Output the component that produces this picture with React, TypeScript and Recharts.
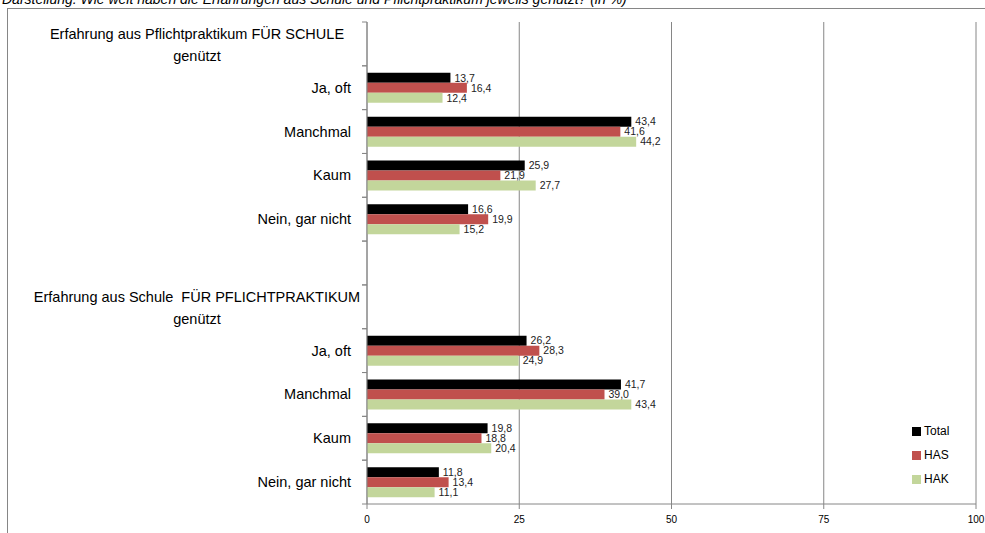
import React from 'react';
import {
  BarChart, Bar, XAxis, YAxis, CartesianGrid, LabelList,
} from 'recharts';

const categories = [
  'Erfahrung aus Pflichtpraktikum FÜR SCHULE genützt',
  'Ja, oft',
  'Manchmal',
  'Kaum',
  'Nein, gar nicht',
  '',
  'Erfahrung aus Schule  FÜR PFLICHTPRAKTIKUM genützt',
  'Ja, oft',
  'Manchmal',
  'Kaum',
  'Nein, gar nicht',
];

const total = [null, 13.7, 43.4, 25.9, 16.6, null, null, 26.2, 41.7, 19.8, 11.8];
const has = [null, 16.4, 41.6, 21.9, 19.9, null, null, 28.3, 39.0, 18.8, 13.4];
const hak = [null, 12.4, 44.2, 27.7, 15.2, null, null, 24.9, 43.4, 20.4, 11.1];

const xTicks = [0, 25, 50, 75, 100];

const series = [
  { key: 'total', name: 'Total', color: '#000000' },
  { key: 'has', name: 'HAS', color: '#C0504D' },
  { key: 'hak', name: 'HAK', color: '#C3D69B' },
];

const data = categories.map((label, i) => ({
  label,
  total: total[i],
  has: has[i],
  hak: hak[i],
}));

const W = 985;
const H = 533;
const TOP = 22;
const BOTTOM = 504;
const AXIS_X = 367;
const BAND = (BOTTOM - TOP) / categories.length;
const FONT = '"Liberation Sans", Arial, sans-serif';

function formatValue(v: any) {
  if (v == null) return '';
  return Number(v).toFixed(1).replace('.', ',');
}

function YTick(props: any) {
  const { y, payload } = props;
  const text: string = payload?.value ?? '';
  const isHeader = text.length > 20;
  let content;
  if (isHeader) {
    const cut = text.lastIndexOf(' ');
    content = (
      <text fontSize={14.5} fontFamily={FONT} fill="#000" textAnchor="middle" style={{ whiteSpace: 'pre' }}>
        <tspan x={197} y={y - 5}>{text.slice(0, cut)}</tspan>
        <tspan x={197} y={y + 17}>{text.slice(cut + 1)}</tspan>
      </text>
    );
  } else if (text) {
    content = (
      <text x={351} y={y + 5} fontSize={14.5} fontFamily={FONT} fill="#000" textAnchor="end">
        {text}
      </text>
    );
  }
  return (
    <g>
      <line x1={AXIS_X - 5} x2={AXIS_X} y1={y - BAND / 2} y2={y - BAND / 2} stroke="#868686" />
      <line x1={AXIS_X - 5} x2={AXIS_X} y1={y + BAND / 2} y2={y + BAND / 2} stroke="#868686" />
      {content}
    </g>
  );
}

function LegendBox() {
  return (
    <div style={{ position: 'absolute', left: 912, top: 419, fontFamily: FONT, fontSize: 12, color: '#000' }}>
      {series.map((s) => (
        <div key={s.key} style={{ display: 'flex', alignItems: 'center', height: 24 }}>
          <span style={{ width: 9, height: 9, background: s.color, marginRight: 3, display: 'inline-block' }} />
          {s.name}
        </div>
      ))}
    </div>
  );
}

export default function App() {
  return (
    <div style={{ position: 'absolute', left: 0, top: 0, width: W, height: H, overflow: 'hidden', background: '#fff' }}>
      <div
        style={{
          position: 'absolute', left: 2, top: -9, fontFamily: FONT, fontStyle: 'italic',
          fontSize: 14, color: '#000', whiteSpace: 'nowrap',
        }}
      >
        Darstellung: Wie weit haben die Erfahrungen aus Schule und Pflichtpraktikum jeweils genützt? (in %)
      </div>
      <div
        style={{
          position: 'absolute', left: 7, top: 8, width: W, height: H,
          borderLeft: '1px solid #868686', borderTop: '1px solid #868686',
        }}
      />
      <div style={{ position: 'absolute', left: 0, top: 0 }}>
        <BarChart
          width={W}
          height={H}
          data={data}
          layout="vertical"
          margin={{ top: TOP, right: W - 976, left: 0, bottom: 0 }}
          barSize={10}
          barGap={0}
        >
          <CartesianGrid horizontal={false} stroke="#868686" />
          <XAxis
            type="number"
            domain={[0, 100]}
            ticks={xTicks}
            height={H - BOTTOM}
            tick={{ fontSize: 10, fill: '#000', fontFamily: FONT }}
            tickSize={5}
            tickMargin={7}
            stroke="#868686"
            interval={0}
          />
          <YAxis
            type="category"
            dataKey="label"
            width={AXIS_X}
            tick={(p: any) => <YTick {...p} />}
            tickLine={false}
            stroke="#868686"
            interval={0}
          />
          {series.map((s) => (
            <Bar key={s.key} dataKey={s.key} name={s.name} fill={s.color} isAnimationActive={false}>
              <LabelList
                dataKey={s.key}
                position="right"
                offset={4}
                formatter={formatValue}
                style={{ fontSize: 10.5, fill: '#222', fontFamily: FONT }}
              />
            </Bar>
          ))}
        </BarChart>
      </div>
      <LegendBox />
    </div>
  );
}
